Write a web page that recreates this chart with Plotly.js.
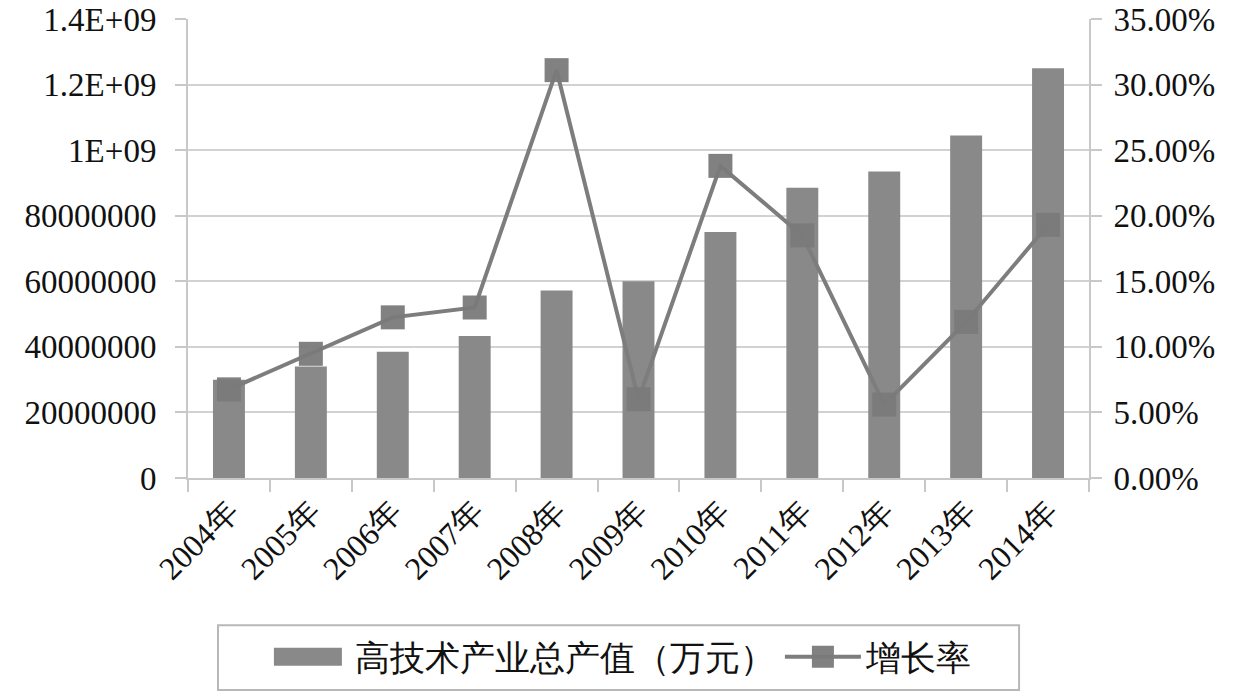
<!DOCTYPE html>
<html>
<head>
<meta charset="utf-8">
<script src="https://cdn.plot.ly/plotly-3.0.1.min.js"></script>
<style>html,body{margin:0;padding:0;background:#fff;}#chart{width:1241px;height:699px;}</style>
</head>
<body>
<div id="chart"></div>
<script>
const years = ["2004年","2005年","2006年","2007年","2008年","2009年","2010年","2011年","2012年","2013年","2014年"];
const outputValue = [3.0e8, 3.4e8, 3.85e8, 4.33e8, 5.72e8, 6.0e8, 7.5e8, 8.85e8, 9.35e8, 1.045e9, 1.25e9];
const growthRate = [0.0676, 0.0947, 0.1225, 0.130, 0.311, 0.060, 0.238, 0.185, 0.056, 0.119, 0.193];
const leftTickVals = [0, 2e8, 4e8, 6e8, 8e8, 1e9, 1.2e9, 1.4e9];
const leftTickText = ["0","20000000","40000000","60000000","80000000","1E+09","1.2E+09","1.4E+09"];
const rightTickVals = [0, 0.05, 0.10, 0.15, 0.20, 0.25, 0.30, 0.35];
const barName = "高技术产业总产值（万元）";
const lineName = "增长率";

const fontFam = "Liberation Serif";

const traces = [
  {
    type: "bar",
    x: years,
    y: outputValue,
    name: barName,
    marker: {color: "#898989"},
    yaxis: "y"
  },
  {
    type: "scatter",
    mode: "lines+markers",
    x: years,
    y: growthRate,
    name: lineName,
    yaxis: "y2",
    line: {color: "#7d7d7d", width: 4},
    marker: {symbol: "square", size: 24, color: "#7a7a7a", opacity: 0.95}
  }
];

const layout = {
  width: 1241,
  height: 699,
  margin: {l: 188, r: 152, t: 19, b: 219},
  paper_bgcolor: "#ffffff",
  plot_bgcolor: "#ffffff",
  font: {family: fontFam, size: 34, color: "#111"},
  bargap: 0.61,
  showlegend: true,
  legend: {
    orientation: "h",
    x: 0.0898, xanchor: "left",
    y: -0.39, yanchor: "middle",
    borderwidth: 0,
    bgcolor: "rgba(0,0,0,0)",
    font: {family: fontFam, size: 35, color: "#111"},
    itemwidth: 76
  },
  shapes: [
    {type: "rect", xref: "paper", yref: "paper", x0: 0.0333, x1: 0.9224, y0: -0.462, y1: -0.321,
     line: {color: "#b8b8b8", width: 2}, fillcolor: "rgba(0,0,0,0)", layer: "below"}
  ],
  xaxis: {
    type: "category",
    range: [-0.5, 10.5],
    tickson: "boundaries",
    ticks: "outside",
    ticklen: 12,
    tickwidth: 2,
    tickcolor: "#c8c8c8",
    showline: true,
    linecolor: "#c8c8c8",
    linewidth: 2,
    tickangle: -45,
    tickfont: {family: fontFam, size: 32, color: "#111"},
    showgrid: false
  },
  yaxis: {
    range: [0, 1.4e9],
    tickvals: leftTickVals,
    ticktext: leftTickText,
    ticks: "outside",
    ticklen: 11,
    tickwidth: 2,
    tickcolor: "#c8c8c8",
    showline: true,
    linecolor: "#c8c8c8",
    linewidth: 2,
    gridcolor: "#d2d2d2",
    gridwidth: 2,
    zeroline: false,
    ticklabeloverflow: "allow",
    ticklabelstandoff: 12,
    tickfont: {family: fontFam, size: 33, color: "#111"}
  },
  yaxis2: {
    overlaying: "y",
    side: "right",
    range: [0, 0.35],
    tickvals: rightTickVals,
    tickformat: ".2%",
    ticks: "outside",
    ticklen: 11,
    tickwidth: 2,
    tickcolor: "#c8c8c8",
    showline: true,
    linecolor: "#c8c8c8",
    linewidth: 2,
    showgrid: false,
    zeroline: false,
    ticklabeloverflow: "allow",
    ticklabelstandoff: 5,
    tickfont: {family: fontFam, size: 33, color: "#111"}
  }
};

Plotly.newPlot("chart", traces, layout, {displayModeBar: false, staticPlot: true}).then(function (gd) {
  const pts = gd.querySelectorAll(".legend .traces .legendpoints");
  if (pts.length > 0) {
    const p = pts[0].querySelector("path");
    if (p) p.setAttribute("d", "M-38,9H30V-9H-38Z");
  }
  if (pts.length > 1) {
    const ps = pts[1].querySelectorAll("path.scatterpts");
    ps.forEach(function (q) { q.setAttribute("d", "M11,11H-11V-11H11Z"); });
  }
});
</script>
</body>
</html>
